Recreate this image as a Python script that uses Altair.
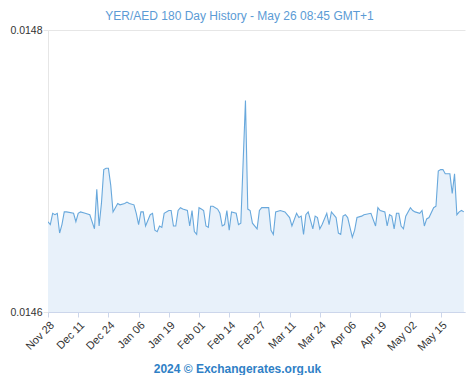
import altair as alt
import pandas as pd

# days since 2023-11-28 and YER/AED rate
day = [0, 1, 2, 3, 4, 5, 6, 7, 8, 11, 12, 13, 14, 16, 18, 20, 21, 22, 23, 24, 25, 26, 27, 28, 29, 30,
       31, 33, 34, 35, 37, 38, 39, 40, 41, 42, 44, 45, 46, 47, 48, 49, 50, 52, 53, 54, 55, 56, 57, 58,
       60, 61, 62, 63, 64, 65, 66, 67, 68, 69, 70, 71, 73, 74, 75, 76, 77, 78, 79, 81, 82, 83, 85, 86,
       87, 88, 90, 91, 92, 93, 95, 96, 97, 98, 100, 102, 104, 105, 107, 108, 109, 110, 111, 112, 114,
       115, 116, 117, 118, 120, 121, 122, 124, 125, 126, 127, 128, 129, 131, 132, 133, 135, 136, 139,
       141, 142, 143, 145, 146, 147, 148, 149, 150, 151, 152, 153, 154, 156, 157, 158, 160, 161, 162,
       163, 164, 166, 167, 168, 169, 170, 171, 173, 174, 175, 176, 177, 178, 179]
rate = [0.014664, 0.014662, 0.014670, 0.014669, 0.014670, 0.014656, 0.014662, 0.014671, 0.014671,
        0.014670, 0.014664, 0.014670, 0.014671, 0.014670, 0.014669, 0.014659, 0.014687, 0.014661,
        0.014677, 0.014701, 0.014702, 0.014702, 0.014690, 0.014671, 0.014674, 0.014677, 0.014676,
        0.014677, 0.014678, 0.014677, 0.014676, 0.014670, 0.014662, 0.014671, 0.014671, 0.014661,
        0.014669, 0.014670, 0.014658, 0.014657, 0.014661, 0.014660, 0.014670, 0.014672, 0.014672,
        0.014661, 0.014661, 0.014672, 0.014674, 0.014673, 0.014672, 0.014661, 0.014672, 0.014657,
        0.014655, 0.014674, 0.014673, 0.014672, 0.014661, 0.014660, 0.014675, 0.014675, 0.014673,
        0.014670, 0.014661, 0.014662, 0.014672, 0.014658, 0.014671, 0.014670, 0.014662, 0.014663,
        0.014750, 0.014673, 0.014672, 0.014663, 0.014659, 0.014672, 0.014674, 0.014674, 0.014674,
        0.014658, 0.014655, 0.014671, 0.014672, 0.014671, 0.014667, 0.014661, 0.014670, 0.014667,
        0.014668, 0.014655, 0.014669, 0.014671, 0.014659, 0.014668, 0.014667, 0.014659, 0.014662,
        0.014670, 0.014662, 0.014671, 0.014667, 0.014656, 0.014655, 0.014668, 0.014669, 0.014667,
        0.014653, 0.014658, 0.014667, 0.014668, 0.014669, 0.014670, 0.014661, 0.014674, 0.014672,
        0.014671, 0.014661, 0.014669, 0.014668, 0.014659, 0.014670, 0.014670, 0.014661, 0.014659,
        0.014668, 0.014674, 0.014672, 0.014671, 0.014670, 0.014672, 0.014661, 0.014666, 0.014667,
        0.014674, 0.014675, 0.014700, 0.014701, 0.014701, 0.014698, 0.014698, 0.014684, 0.014698,
        0.014669, 0.014671, 0.014672, 0.014671]

tick_dates = ["2023-11-28", "2023-12-11", "2023-12-24", "2024-01-06", "2024-01-19", "2024-02-01",
              "2024-02-14", "2024-02-27", "2024-03-11", "2024-03-24", "2024-04-06", "2024-04-19",
              "2024-05-02", "2024-05-15"]
y_ticks = [0.0146, 0.0148]

start = pd.Timestamp("2023-11-28")
df = pd.DataFrame({"date": start + pd.to_timedelta(day, unit="D"), "rate": rate})

tick_vals = [alt.DateTime(year=int(d[:4]), month=int(d[5:7]), date=int(d[8:10])) for d in tick_dates]

FONT = "Liberation Sans"

chart = alt.Chart(df).mark_area(
    color="#e8f1fa",
    opacity=1,
    clip=True,
    line={"color": "#68a8dc", "strokeWidth": 1.1},
).encode(
    x=alt.X(
        "date:T",
        scale=alt.Scale(domain=[alt.DateTime(year=2023, month=11, date=28),
                                alt.DateTime(year=2024, month=5, date=25, hours=12)]),
        axis=alt.Axis(
            values=tick_vals,
            format="%b %d",
            labelAngle=-45,
            labelAlign="right",
            labelBaseline="top",
            labelOverlap=False,
            labelFontSize=11,
            labelColor="#333333",
            labelFont=FONT,
            labelPadding=2,
            tickColor="#ccd6eb",
            tickSize=5,
            domainColor="#ccd6eb",
            grid=False,
            zindex=1,
            title="2024 © Exchangerates.org.uk",
            titleFont=FONT,
            titleFontSize=12,
            titleFontWeight="bold",
            titleColor="#2f7fc6",
            titleX=189,
            titleY=56,
            titleBaseline="middle",
            titleAnchor="middle",
            titleAlign="center",
        ),
    ),
    y=alt.Y(
        "rate:Q",
        scale=alt.Scale(domain=[0.0146, 0.0148], nice=False, zero=False),
        axis=alt.Axis(
            values=y_ticks,
            format=".4f",
            title=None,
            labelFontSize=10.5,
            labelColor="#333333",
            labelFont=FONT,
            labelPadding=1,
            tickSize=5,
            tickColor="#e6e6e6",
            domainColor="#e6e6e6",
            gridColor="#e6e6e6",
        ),
    ),
    y2=alt.datum(0.0146),
).properties(
    width=417,
    height=282,
    autosize=alt.AutoSizeParams(type="none"),
    padding={"left": 40, "top": 22, "right": 1, "bottom": 63},
    title=alt.Title(
        "YER/AED 180 Day History - May 26 08:45 GMT+1",
        font=FONT,
        fontSize=12,
        fontWeight="normal",
        color="#5b9bd5",
        anchor="middle",
        dx=-17,
        offset=2,
    ),
).configure_view(stroke=None)

chart.save("out.html", embed_options={"renderer": "svg", "actions": False})
